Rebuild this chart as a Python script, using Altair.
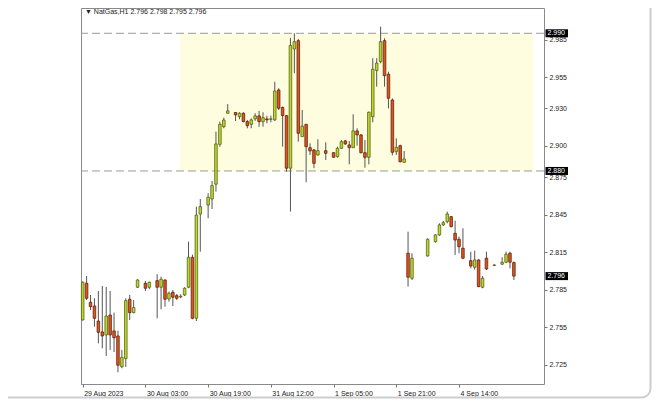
import altair as alt
import pandas as pd

# ---- candle data (bar index, OHLC) ----
bar_idx = [0,1,2,3,4,5,6,7,8,9,10,11,12,13,14,16,17,19,20,21,22,23,24,25,26,27,28,29,30,
           32,33,34,35,36,37,39,40,41,42,43,44,45,46,47,48,49,50,51,52,53,54,55,56,57,58,59,60,
           62,64,65,66,67,68,69,70,71,72,73,74,75,76,77,78,79,80,81,82,
           83,84,88,90,91,92,93,94,95,96,97,99,100,101,102,103,105,107,108,109,110]
opens = [2.7610,2.7903,2.7751,2.7721,2.7601,2.7514,2.7490,2.7649,2.7522,2.7482,2.7236,2.7302,2.7775,2.7668,2.7871,
         2.7903,2.7871,2.7924,2.7871,2.7929,2.7777,2.7831,2.7804,2.7793,2.7809,2.7871,2.8110,2.7623,2.8456,
         2.8528,2.8576,2.8694,2.9013,2.9154,2.9261,2.9267,2.9234,2.9261,2.9194,2.9173,2.9216,2.9240,2.9194,2.9216,2.9213,
         2.9208,2.9447,2.9307,2.9242,2.8822,2.9775,2.9841,2.9074,2.9173,2.8986,2.8968,2.8928,
         2.8962,2.8946,2.8914,2.8981,2.9040,2.9008,2.8986,2.9120,2.9088,2.8946,2.8909,2.9234,2.9603,2.9673,2.9841,
         2.9573,2.9367,2.8954,2.9002,2.8869,
         2.8143,2.7943,2.8121,2.8235,2.8289,2.8369,2.8395,2.8435,2.8302,2.8254,2.8183,2.8083,2.8031,2.8089,2.7871,
         2.8103,2.8045,2.8055,2.8071,2.8143,2.8068]
highs = [2.7918,2.7961,2.7809,2.7783,2.7841,2.7881,2.7873,2.7841,2.7668,2.7524,2.7370,2.7783,2.7809,2.7769,2.7935,
         2.7921,2.7916,2.7975,2.7956,2.7935,2.7836,2.7849,2.7817,2.7815,2.7871,2.8235,2.8131,2.8515,2.8576,
         2.8622,2.8720,2.9114,2.9194,2.9226,2.9334,2.9270,2.9269,2.9269,2.9208,2.9221,2.9261,2.9280,2.9269,2.9242,2.9242,
         2.9513,2.9461,2.9315,2.9247,2.9862,2.9900,2.9854,2.9287,2.9173,2.9021,2.8976,2.9053,
         2.9029,2.8950,2.8994,2.9047,2.9048,2.9040,2.9253,2.9141,2.9095,2.9048,2.9275,2.9701,2.9701,2.9953,2.9860,
         2.9593,2.9380,2.9061,2.9010,2.8960,
         2.8315,2.8143,2.8262,2.8294,2.8382,2.8401,2.8475,2.8440,2.8403,2.8275,2.8342,2.8155,2.8163,2.8095,2.7961,
         2.8155,2.8055,2.8111,2.8155,2.8155,2.8076]
lows = [2.7605,2.7769,2.7689,2.7556,2.7423,2.7383,2.7322,2.7370,2.7354,2.7192,2.7224,2.7234,2.7609,2.7663,2.7865,
        2.7841,2.7855,2.7623,2.7695,2.7716,2.7756,2.7721,2.7769,2.7783,2.7801,2.7863,2.7615,2.7601,2.8155,
        2.8422,2.8496,2.8635,2.8994,2.9141,2.9259,2.9199,2.9213,2.9189,2.9141,2.9141,2.9200,2.9154,2.9154,2.9181,2.9189,
        2.9200,2.9287,2.8994,2.8794,2.8475,2.9581,2.9034,2.9074,2.8710,2.8928,2.8822,2.8922,
        2.8888,2.8906,2.8906,2.8978,2.9008,2.8853,2.8986,2.9002,2.8940,2.8826,2.8853,2.9189,2.9474,2.9660,2.9474,
        2.9300,2.8925,2.8928,2.8868,2.8869,
        2.7876,2.7929,2.8116,2.8227,2.8281,2.8361,2.8382,2.8350,2.8129,2.8143,2.8095,2.8022,2.8012,2.7871,2.7863,
        2.8009,2.8040,2.8049,2.8063,2.8022,2.7929]
closes = [2.7911,2.7783,2.7716,2.7623,2.7511,2.7482,2.7641,2.7490,2.7468,2.7248,2.7311,2.7764,2.7668,2.7709,2.7929,
          2.7863,2.7911,2.7871,2.7935,2.7775,2.7823,2.7791,2.7783,2.7799,2.7863,2.8110,2.7623,2.8448,2.8515,
          2.8590,2.8683,2.9016,2.9173,2.9207,2.9280,2.9248,2.9261,2.9194,2.9162,2.9208,2.9240,2.9194,2.9226,2.9208,2.9216,
          2.9439,2.9301,2.9243,2.8822,2.9803,2.9833,2.9101,2.9159,2.8994,2.8960,2.8861,2.8962,
          2.8941,2.8909,2.8981,2.9034,2.9016,2.8986,2.9120,2.9088,2.8946,2.8909,2.9269,2.9613,2.9662,2.9833,2.9561,
          2.9381,2.8949,2.8989,2.8874,2.8896,
          2.7951,2.8103,2.8254,2.8289,2.8369,2.8387,2.8456,2.8355,2.8248,2.8195,2.8103,2.8041,2.8089,2.7876,2.7943,
          2.8017,2.8049,2.8071,2.8135,2.8071,2.7960]

tick_idx = [0, 16, 32, 48, 64, 80, 96]
tick_labels = ["29 Aug 2023", "30 Aug 03:00", "30 Aug 19:00", "31 Aug 12:00",
               "1 Sep 05:00", "1 Sep 21:00", "4 Sep 14:00"]
y_ticks = [2.725, 2.755, 2.785, 2.815, 2.845, 2.875, 2.900, 2.930, 2.955, 2.985]
levels = [2.990, 2.880]
last_price = 2.796
zone_start, zone_end = 24.8, 115.0
header = "▼ NatGas,H1  2.796 2.798 2.795 2.796"

FONT = "Liberation Sans"
X_DOMAIN = [-0.43, 117.68]
Y_DOMAIN = [2.7098, 3.0102]

df = pd.DataFrame({"i": bar_idx, "open": opens, "high": highs, "low": lows, "close": closes})
xs = alt.Scale(domain=X_DOMAIN, nice=False, zero=False, padding=0)
ys = alt.Scale(domain=Y_DOMAIN, nice=False, zero=False, padding=0)

label_arr = "[" + ",".join("'%s'" % t for t in tick_labels) + "]"
x_axis = alt.Axis(
    values=tick_idx, labelExpr=label_arr + "[round(datum.value/16)]",
    labelAlign="left", labelOffset=1, labelPadding=2, tickSize=3, tickColor="#777777",
    domain=False, grid=False, title=None, labelFont=FONT, labelFontSize=7,
    labelColor="#222222", labelOverlap=False)
y_axis = alt.Axis(
    orient="right", values=y_ticks, format=".3f", tickSize=3, tickColor="#777777",
    domain=False, grid=False, title=None, labelFont=FONT, labelFontSize=7,
    labelColor="#222222", labelPadding=2, labelOverlap=False)

one = pd.DataFrame({"k": [0]})
# card shadow along the bottom / right edges of the rounded frame
shadow = alt.Chart(one).mark_rect(
    fill="transparent", stroke="#cdcdcd", strokeWidth=2, cornerRadius=9).encode(
    x=alt.value(-200), x2=alt.value(569.5), y=alt.value(-200), y2=alt.value(389.5))

zone = alt.Chart(pd.DataFrame({"x0": [zone_start], "x1": [zone_end],
                               "y0": [levels[1]], "y1": [levels[0]]})).mark_rect(
    color="#fffde0").encode(
    x=alt.X("x0:Q", scale=xs, axis=x_axis), x2="x1:Q",
    y=alt.Y("y0:Q", scale=ys, axis=y_axis), y2="y1:Q")

dash = alt.Chart(pd.DataFrame({"v": levels})).mark_rule(
    color="#9a9a9a", strokeDash=[8, 4], strokeWidth=1).encode(
    y=alt.Y("v:Q", scale=ys, axis=y_axis))

wick = alt.Chart(df).mark_rule(color="#555555", strokeWidth=1).encode(
    x=alt.X("i:Q", scale=xs, axis=x_axis),
    y=alt.Y("low:Q", scale=ys, axis=y_axis),
    y2="high:Q")

up = "datum.close >= datum.open"
body = alt.Chart(df).mark_bar(width=2.6, strokeWidth=0.7).encode(
    x=alt.X("i:Q", scale=xs, axis=x_axis),
    y=alt.Y("open:Q", scale=ys, axis=y_axis), y2="close:Q",
    color=alt.condition(up, alt.value("#bcd52a"), alt.value("#e4531c")),
    stroke=alt.condition(up, alt.value("#4a5608"), alt.value("#4a1a06")))

boxes_df = pd.DataFrame({"v": levels + [last_price]})
boxes = alt.Chart(boxes_df).transform_calculate(
    lo="datum.v - 0.0032", hi="datum.v + 0.0032").mark_rect(color="#000000").encode(
    x=alt.value(464.5), x2=alt.value(487),
    y=alt.Y("lo:Q", scale=ys, axis=y_axis), y2="hi:Q")
box_text = alt.Chart(boxes_df).transform_calculate(
    label="format(datum.v, '.3f')").mark_text(
    align="left", baseline="middle", font=FONT, fontSize=7, color="#ffffff").encode(
    x=alt.value(466.5), y=alt.Y("v:Q", scale=ys, axis=y_axis), text="label:N")

title = alt.Chart(pd.DataFrame({"t": [header]})).mark_text(
    align="left", baseline="middle", font=FONT, fontSize=7, color="#222222").encode(
    x=alt.value(4), y=alt.value(4), text="t:N")

chart = alt.layer(shadow, zone, dash, wick, body, boxes, box_text, title).properties(
    width=463, height=376,
    autosize=alt.AutoSizeParams(type="none"),
    padding={"left": 73, "top": 0, "right": 108, "bottom": 15},
    background="white",
).configure_view(stroke="#8a8a8a", strokeWidth=1)

chart.save("out.html", embed_options={"renderer": "svg", "actions": False})
